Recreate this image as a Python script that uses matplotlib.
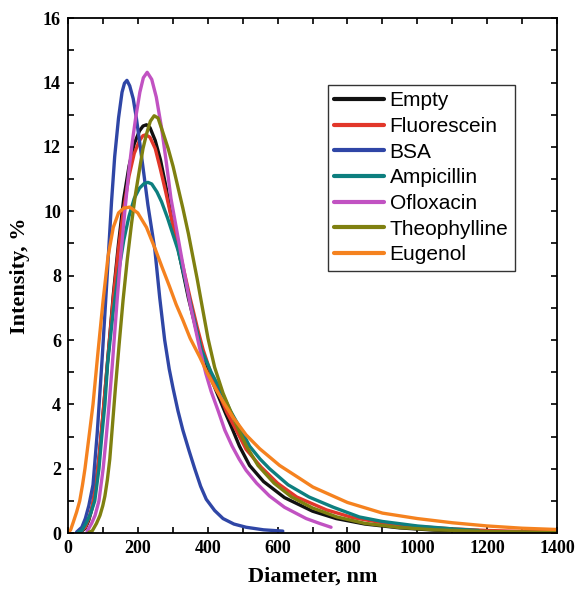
import matplotlib
matplotlib.use("Agg")
import matplotlib.pyplot as plt
from matplotlib.ticker import MultipleLocator

# size distributions (intensity, %) vs hydrodynamic diameter (nm)
empty_x = [35, 50, 60, 70, 80, 90, 100, 115, 130, 145, 160, 175, 190, 205, 215, 225, 235, 250, 265, 280,
           295, 320, 345, 370, 390, 410, 425, 450, 472, 491, 520, 560, 620, 700, 768, 850, 950, 1050, 1200, 1400]
empty_y = [0.02, 0.15, 0.4, 0.8, 1.45, 2.4, 3.6, 5.5, 7.4, 9.0, 10.4, 11.4, 12.1, 12.5, 12.65, 12.69, 12.6, 12.2, 11.6, 10.8,
           9.9, 8.6, 7.3, 6.2, 5.4, 4.8, 4.4, 3.75, 3.2, 2.7, 2.1, 1.6, 1.1, 0.68, 0.45, 0.28, 0.16, 0.09, 0.04, 0.02]

fluor_x = [35, 50, 60, 70, 80, 90, 100, 115, 130, 145, 160, 175, 190, 205, 215, 223, 235, 250, 265, 280,
           300, 325, 350, 370, 387, 410, 430, 455, 484, 510, 553, 600, 655, 740, 815, 900, 1000, 1100, 1200, 1300, 1400]
fluor_y = [0.03, 0.18, 0.45, 0.85, 1.5, 2.45, 3.65, 5.5, 7.3, 8.85, 10.1, 11.1, 11.8, 12.2, 12.35, 12.38, 12.3, 11.95, 11.3, 10.6,
           9.6, 8.5, 7.3, 6.4, 5.7, 4.95, 4.4, 3.75, 3.15, 2.6, 2.05, 1.55, 1.12, 0.72, 0.48, 0.32, 0.2, 0.13, 0.08, 0.05, 0.03]

bsa_x = [25, 40, 50, 60, 72, 84, 98, 112, 125, 134, 145, 155, 162, 169, 177, 187, 196, 206, 217, 229,
         249, 263, 277, 290, 301, 315, 329, 347, 363, 380, 396, 420, 444, 475, 510, 560, 615]
bsa_y = [0.03, 0.18, 0.45, 0.85, 1.5, 3.1, 5.4, 7.9, 10.3, 11.7, 12.9, 13.7, 13.98, 14.07, 13.9, 13.5, 12.9, 12.1, 11.2, 10.2,
         8.8, 7.3, 6.0, 5.1, 4.5, 3.8, 3.2, 2.55, 2.0, 1.45, 1.05, 0.7, 0.45, 0.28, 0.18, 0.1, 0.06]

ampi_x = [30, 40, 53, 65, 77, 89, 97, 106, 114, 130, 145, 160, 175, 190, 205, 218, 229, 240, 255,
          268, 285, 300, 315, 335, 360, 382, 410, 439, 465, 496, 520, 550, 577, 630, 690, 760, 834, 900, 1000, 1100, 1175]
ampi_y = [0.03, 0.08, 0.32, 0.6, 1.0, 2.0, 3.0, 4.0, 5.3, 6.9, 8.1, 9.1, 9.85, 10.4, 10.72, 10.86, 10.9, 10.85, 10.6,
          10.3, 9.8, 9.3, 8.8, 7.9, 6.7, 5.7, 5.0, 4.4, 3.8, 3.2, 2.7, 2.3, 2.0, 1.5, 1.12, 0.8, 0.5, 0.36, 0.22, 0.13, 0.08]

oflox_x = [55, 68, 78, 89, 95, 101, 110, 118, 127, 141, 152, 163, 175, 185, 194, 206, 216, 227, 240, 253,
           268, 282, 295, 310, 329, 350, 377, 395, 410, 430, 449, 470, 490, 510, 540, 577, 620, 682, 720, 753]
oflox_y = [0.05, 0.3, 0.55, 1.0, 1.5, 2.0, 3.0, 4.0, 5.2, 7.24, 8.7, 10.0, 11.3, 12.2, 12.9, 13.7, 14.15, 14.32, 14.1, 13.55,
           12.6, 11.5, 10.4, 9.5, 8.35, 7.1, 5.75, 4.95, 4.4, 3.8, 3.2, 2.7, 2.3, 1.95, 1.55, 1.15, 0.8, 0.45, 0.3, 0.18]

theo_x = [60, 70, 82, 92, 100, 106, 113, 120, 128, 136, 147, 158, 170, 182, 193, 205, 215, 225, 236, 247,
          258, 272, 287, 301, 315, 329, 345, 353, 370, 385, 401, 420, 444, 465, 487, 511, 544, 590, 640, 700, 770,
          850, 950, 1050, 1200, 1400]
theo_y = [0.02, 0.07, 0.3, 0.55, 0.85, 1.15, 1.65, 2.3, 3.4, 4.5, 5.9, 7.24, 8.5, 9.6, 10.5, 11.3, 11.95, 12.4, 12.8, 12.97,
          12.9, 12.45, 11.95, 11.4, 10.75, 10.1, 9.3, 8.85, 7.9, 7.0, 6.05, 5.15, 4.35, 3.8, 3.25, 2.7, 2.1, 1.55, 1.12, 0.78, 0.5,
          0.3, 0.17, 0.1, 0.05, 0.02]

eug_x = [0, 8, 15, 25, 34, 42, 49, 60, 72, 86, 101, 115, 130, 145, 160, 177, 200, 225, 251, 270,
         291, 310, 329, 350, 377, 400, 425, 450, 472, 510, 549, 606, 663, 701, 800, 900, 1000, 1100, 1200, 1300, 1400]
eug_y = [0.0, 0.1, 0.32, 0.65, 1.0, 1.5, 2.0, 2.95, 4.0, 5.6, 7.24, 8.6, 9.5, 9.95, 10.1, 10.13, 9.95, 9.5, 8.8, 8.25,
         7.66, 7.1, 6.62, 6.05, 5.48, 4.95, 4.44, 3.98, 3.61, 3.05, 2.62, 2.1, 1.7, 1.43, 0.95, 0.62, 0.45, 0.32, 0.22, 0.15, 0.11]

series = [
    ("Empty", empty_x, empty_y, "#111111"),
    ("Fluorescein", fluor_x, fluor_y, "#E2372A"),
    ("BSA", bsa_x, bsa_y, "#2F46A6"),
    ("Ampicillin", ampi_x, ampi_y, "#0D7F7F"),
    ("Ofloxacin", oflox_x, oflox_y, "#C152C2"),
    ("Theophylline", theo_x, theo_y, "#7F8010"),
    ("Eugenol", eug_x, eug_y, "#F5821F"),
]

fig = plt.figure(figsize=(5.75, 5.89), dpi=100)
ax = fig.add_axes([0.118, 0.095, 0.851, 0.874])

for name, xs, ys, col in series:
    ax.plot(xs, ys, color=col, lw=2.4, label=name, solid_capstyle="round", solid_joinstyle="round")

ax.set_xlim(0, 1400)
ax.set_ylim(0, 16)
ax.xaxis.set_major_locator(MultipleLocator(200))
ax.xaxis.set_minor_locator(MultipleLocator(100))
ax.yaxis.set_major_locator(MultipleLocator(2))
ax.yaxis.set_minor_locator(MultipleLocator(1))
ax.tick_params(which="both", direction="in", top=True, right=True, width=1.2, length=4)
ax.tick_params(which="major", pad=5)
for sp in ax.spines.values():
    sp.set_linewidth(1.3)

serif = {"family": "Liberation Serif", "weight": "bold"}
for lab in ax.get_xticklabels() + ax.get_yticklabels():
    lab.set_fontfamily("Liberation Serif")
    lab.set_fontweight("bold")
    lab.set_fontsize(13)
ax.set_xlabel("Diameter, nm", fontsize=16, labelpad=7, **serif)
ax.set_ylabel("Intensity, %", fontsize=16, labelpad=9, **serif)

leg = ax.legend(loc="upper left", bbox_to_anchor=(0.532, 0.870), fancybox=False,
                edgecolor="#333333", framealpha=1, handlelength=2.4, handletextpad=0.25,
                labelspacing=0.32, borderpad=0.3, borderaxespad=0,
                prop={"family": "Liberation Sans", "size": 15})
leg.get_frame().set_linewidth(1.0)
for h in leg.get_lines():
    h.set_linewidth(3)

fig.savefig("out.png", dpi=100)
